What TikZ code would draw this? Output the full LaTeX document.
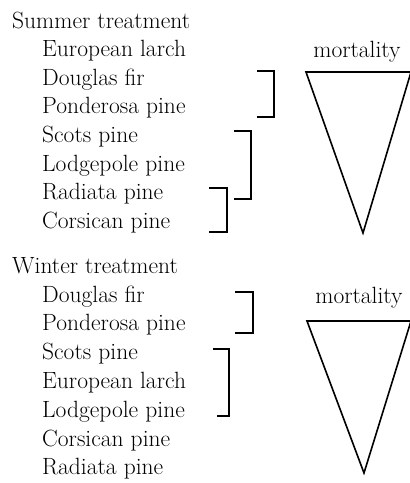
\documentclass[tikz,border=0pt]{standalone}
\begin{document}
\begin{tikzpicture}[x=1pt,y=-1pt,
  lbl/.style={anchor=base west,inner sep=0pt,font=\fontsize{23.5}{28}\selectfont},
  mort/.style={anchor=base,inner sep=0pt,font=\fontsize{23.5}{28}\selectfont},
  brk/.style={line width=1.3pt},
  tri/.style={line width=1.6pt,line join=miter}]
\useasboundingbox (0,0) rectangle (410,483);
\clip (0,0) rectangle (410,483);
% Summer
\node[lbl] (s0) at (12,28) {Summer treatment};
\node[lbl] (s1) at (42,56.6) {European larch};
\node[lbl] (s2) at (42,85.2) {Douglas fir};
\node[lbl] (s3) at (42,113.8) {Ponderosa pine};
\node[lbl] (s4) at (42,142.4) {Scots pine};
\node[lbl] (s5) at (42,171) {Lodgepole pine};
\node[lbl] (s6) at (42,199.6) {Radiata pine};
\node[lbl] (s7) at (42,228.2) {Corsican pine};
\node[mort] (m1) at (357,57) {mortality};
\draw[brk] (257,71) -- (274,71) -- (274,117) -- (257,117);
\draw[brk] (234,131) -- (251,131) -- (251,199) -- (234,199);
\draw[brk] (209,188) -- (227,188) -- (227,232) -- (209,232);
\draw[tri] (306,72) -- (411,72) -- (363,233) -- cycle;
% Winter
\node[lbl] (w0) at (12,273) {Winter treatment};
\node[lbl] (w1) at (42,302) {Douglas fir};
\node[lbl] (w2) at (42,330.8) {Ponderosa pine};
\node[lbl] (w3) at (42,359.6) {Scots pine};
\node[lbl] (w4) at (42,388.4) {European larch};
\node[lbl] (w5) at (42,417.2) {Lodgepole pine};
\node[lbl] (w6) at (42,446) {Corsican pine};
\node[lbl] (w7) at (42,474.8) {Radiata pine};
\node[mort] (m2) at (359,303) {mortality};
\draw[brk] (235,292) -- (253,292) -- (253,333) -- (235,333);
\draw[brk] (213,349) -- (229,349) -- (229,416) -- (217,416);
\draw[tri] (307,321) -- (411,321) -- (364,473) -- cycle;
\end{tikzpicture}
\end{document}
